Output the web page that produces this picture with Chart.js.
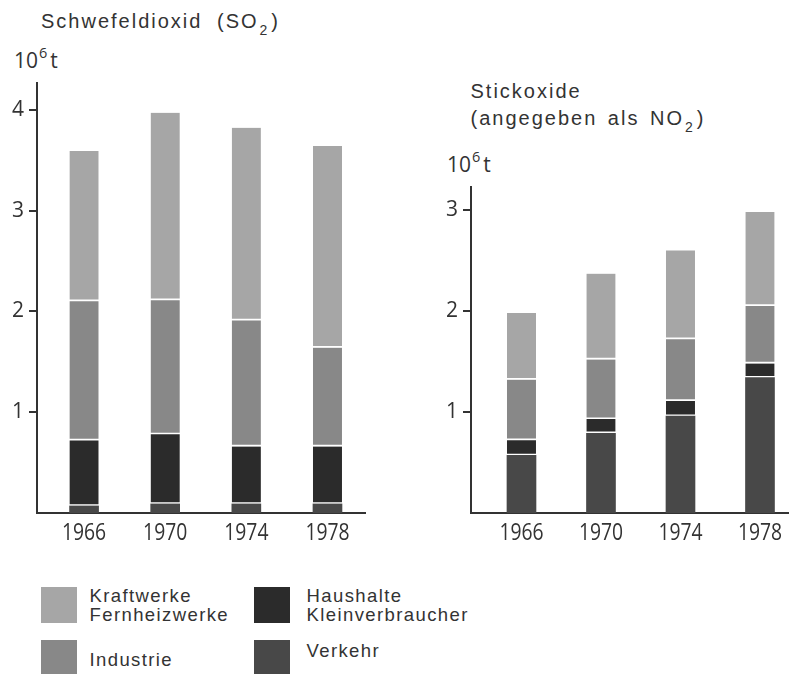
<!DOCTYPE html>
<html lang="de">
<head>
<meta charset="utf-8">
<title>Schwefeldioxid und Stickoxide nach Emittentengruppen</title>
<script src="https://cdn.jsdelivr.net/npm/chart.js@4.4.1/dist/chart.umd.min.js"></script>
<style>
  html, body { margin: 0; padding: 0; background: #fff; }
  body {
    width: 789px; height: 674px; position: relative; overflow: hidden;
    color: #333; font-family: 'Liberation Sans', Arial, sans-serif;
  }
  canvas { position: absolute; top: 0; }
  #so2 { left: 0; }
  #nox { left: 420px; }
  .title { position: absolute; font-size: 20px; letter-spacing: 2px; word-spacing: 3px; white-space: nowrap; }
  .title sub { font-size: 14px; line-height: 0; vertical-align: -7px; letter-spacing: 4px; margin-left: 1px; }
  .unit { position: absolute; font-family: 'Open Sans', sans-serif; font-size: 21px; line-height: 1.2; white-space: nowrap; }
  .unit sup { font-size: 14.5px; line-height: 0; vertical-align: 10px; margin: 0 3px 0 1px; }
  .sw { position: absolute; width: 36px; height: 36px; }
  .lg { position: absolute; font-size: 18.5px; letter-spacing: 1.4px; line-height: 19.5px; white-space: nowrap; }
</style>
</head>
<body>

<div class="title" style="left:41px; top:8.5px; line-height:24px; word-spacing:7px;">Schwefeldioxid (SO<sub>2</sub>)</div>
<div class="unit" style="left:14px; top:48px;">10<sup>6</sup>t</div>

<div class="title" style="left:470.5px; top:78px; line-height:26.7px;">Stickoxide<br>(angegeben als NO<sub>2</sub>)</div>
<div class="unit" style="left:447px; top:152px;">10<sup>6</sup>t</div>

<canvas id="so2" width="370" height="560"></canvas>
<canvas id="nox" width="369" height="560"></canvas>

<div id="legend"></div>

<script>
// Emissionen in Mio. t, gestapelt von unten: Verkehr, Haushalte, Industrie, Kraftwerke
const YEARS = [1966, 1970, 1974, 1978];

const SO2_VERKEHR    = [0.07, 0.09, 0.09, 0.09];
const SO2_HAUSHALTE  = [0.65, 0.69, 0.57, 0.57];
const SO2_INDUSTRIE  = [1.38, 1.33, 1.25, 0.98];
const SO2_KRAFTWERKE = [1.49, 1.86, 1.91, 2.00];

const NOX_VERKEHR    = [0.57, 0.79, 0.96, 1.34];
const NOX_HAUSHALTE  = [0.15, 0.14, 0.15, 0.14];
const NOX_INDUSTRIE  = [0.60, 0.59, 0.61, 0.57];
const NOX_KRAFTWERKE = [0.66, 0.85, 0.88, 0.93];

const SO2_TICKS = [1, 2, 3, 4];
const NOX_TICKS = [1, 2, 3];

const SECTOR_LABELS = {
  kraftwerke: ['Kraftwerke', 'Fernheizwerke'],
  industrie:  ['Industrie'],
  haushalte:  ['Haushalte', 'Kleinverbraucher'],
  verkehr:    ['Verkehr']
};

const COLORS = {
  kraftwerke: '#a6a6a6',
  industrie:  '#888888',
  haushalte:  '#2b2b2b',
  verkehr:    '#484848'
};

const INK = '#333333';
const TICK_FONT = { family: "'Open Sans', 'Noto Sans', sans-serif", size: 21 };
const YEAR_FONT = "23px 'Open Sans', 'Noto Sans', sans-serif";
const YEAR_SQUEEZE = 0.84;   // schmal laufende Jahreszahlen
const YEAR_BASELINE = 26.5;  // Abstand Grundlinie unter der x-Achse

// Jahreszahlen unter der x-Achse, an den Positionen der Skala, horizontal gestaucht
const yearLabels = {
  id: 'yearLabels',
  afterDraw(chart) {
    const xs = chart.scales.x;
    const ctx = chart.ctx;
    ctx.save();
    ctx.fillStyle = INK;
    ctx.font = YEAR_FONT;
    ctx.textAlign = 'center';
    ctx.textBaseline = 'alphabetic';
    YEARS.forEach(yr => {
      ctx.save();
      ctx.translate(xs.getPixelForValue(yr), xs.top + YEAR_BASELINE);
      ctx.scale(YEAR_SQUEEZE, 1);
      ctx.fillText(String(yr), 0, 0);
      ctx.restore();
    });
    ctx.restore();
  }
};

function dataset(key, values, whiteBase) {
  return {
    label: SECTOR_LABELS[key].join(' '),
    data: YEARS.map((yr, i) => ({ x: yr, y: values[i] })),
    backgroundColor: COLORS[key],
    borderColor: '#ffffff',
    borderWidth: { top: 0, right: 0, left: 0, bottom: whiteBase ? 2 : 0 },
    borderSkipped: false,
    barThickness: 29
  };
}

function stackedChart(canvasId, series, cfg) {
  return new Chart(document.getElementById(canvasId), {
    type: 'bar',
    data: {
      datasets: [
        dataset('verkehr', series.verkehr, false),
        dataset('haushalte', series.haushalte, true),
        dataset('industrie', series.industrie, true),
        dataset('kraftwerke', series.kraftwerke, true)
      ]
    },
    plugins: [yearLabels],
    options: {
      responsive: false,
      animation: false,
      devicePixelRatio: 1,
      layout: { padding: { top: cfg.padTop, right: cfg.padRight, left: 0, bottom: 0 } },
      plugins: { legend: { display: false }, tooltip: { enabled: false } },
      scales: {
        x: {
          type: 'linear',
          stacked: true,
          offset: false,
          min: cfg.xMin,
          max: cfg.xMax,
          afterBuildTicks: s => { s.ticks = YEARS.map(v => ({ value: v })); },
          afterFit: s => { s.height = 47; },
          grid: { display: false, drawTicks: false },
          border: { display: true, color: INK, width: 2 },
          ticks: { display: false }
        },
        y: {
          type: 'linear',
          stacked: true,
          min: 0,
          max: cfg.yMax,
          afterBuildTicks: s => { s.ticks = cfg.ticks.map(v => ({ value: v })); },
          afterFit: s => { s.width = cfg.axisWidth; },
          grid: { drawOnChartArea: false, drawTicks: true, tickLength: 8, color: INK, lineWidth: 2 },
          border: { color: INK, width: 2 },
          ticks: { padding: 5, color: INK, font: TICK_FONT, callback: v => String(v) }
        }
      }
    }
  });
}

stackedChart('so2', {
  verkehr: SO2_VERKEHR, haushalte: SO2_HAUSHALTE,
  industrie: SO2_INDUSTRIE, kraftwerke: SO2_KRAFTWERKE
}, { padTop: 83, padRight: 5, axisWidth: 37, xMin: 1963.68, xMax: 1979.85, yMax: 4.265, ticks: SO2_TICKS });

stackedChart('nox', {
  verkehr: NOX_VERKEHR, haushalte: NOX_HAUSHALTE,
  industrie: NOX_INDUSTRIE, kraftwerke: NOX_KRAFTWERKE
}, { padTop: 187, padRight: 0, axisWidth: 51, xMin: 1963.46, xMax: 1979.46, yMax: 3.228, ticks: NOX_TICKS });

// Legende: zwei Spalten mit Farbfeld und Beschriftung
const legendItems = [
  { key: 'kraftwerke', sw: [41, 587], tx: [89.5, 585.6] },
  { key: 'industrie',  sw: [41, 640], tx: [89.5, 649.6] },
  { key: 'haushalte',  sw: [254, 587], tx: [306.5, 585.6] },
  { key: 'verkehr',    sw: [254, 640], tx: [306.5, 640.6] }
];
const legend = document.getElementById('legend');
legendItems.forEach(item => {
  const sw = document.createElement('div');
  sw.className = 'sw';
  sw.style.left = item.sw[0] + 'px';
  sw.style.top = item.sw[1] + 'px';
  sw.style.background = COLORS[item.key];
  legend.appendChild(sw);
  const tx = document.createElement('div');
  tx.className = 'lg';
  tx.style.left = item.tx[0] + 'px';
  tx.style.top = item.tx[1] + 'px';
  tx.innerHTML = SECTOR_LABELS[item.key].join('<br>');
  legend.appendChild(tx);
});
</script>
</body>
</html>
